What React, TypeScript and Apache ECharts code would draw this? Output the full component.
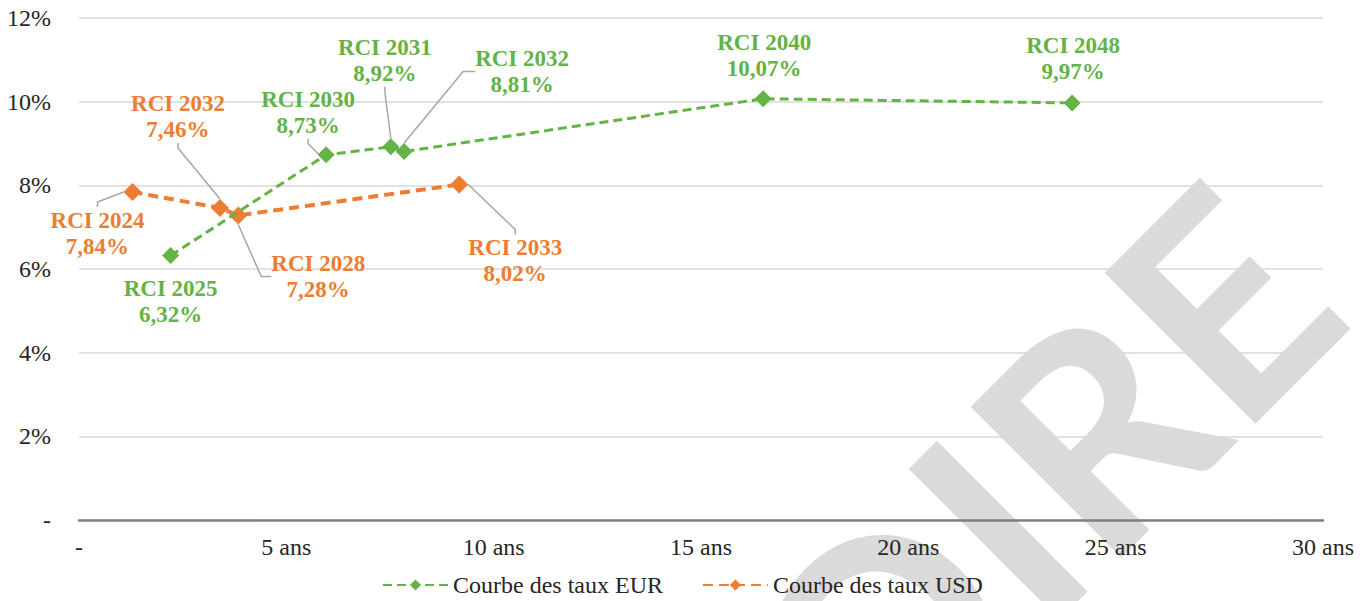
import { useEffect, useRef } from 'react';
import * as echarts from 'echarts';

// ---- Data ----
const eurNames = ['RCI 2025', 'RCI 2030', 'RCI 2031', 'RCI 2032', 'RCI 2040', 'RCI 2048'];
const eurMaturities = [2.21, 5.96, 7.52, 7.84, 16.5, 23.95];
const eurRates = [6.32, 8.73, 8.92, 8.81, 10.07, 9.97];

const usdNames = ['RCI 2024', 'RCI 2032', 'RCI 2028', 'RCI 2033'];
const usdMaturities = [1.29, 3.4, 3.84, 9.17];
const usdRates = [7.84, 7.46, 7.28, 8.02];

const xTickLabels = ['-', '5 ans', '10 ans', '15 ans', '20 ans', '25 ans', '30 ans'];
const yTickLabels = ['-', '2%', '4%', '6%', '8%', '10%', '12%'];
const legendNames = ['Courbe des taux EUR', 'Courbe des taux USD'];
const watermarkText = 'PROVISOIRE';

// ---- Styles / label placement ----
const GREEN = '#63b345';
const ORANGE = '#ed7d31';
const TEXT = '#262626';
const SERIF = "'Liberation Serif', 'Times New Roman', serif";

const eurLabelOffsets = [[0, 46], [-18, -42], [-6, -86], [118, -80], [1, -43], [1, -44]];
const eurLeader = [0, 5, 5, 12, 0, 0];
const usdLabelOffsets = [[-35, 41], [-42, -91], [80, 61], [56, 76]];
const usdLeader = [5, 5, 10, 5];

const fmt = (v: number) => v.toFixed(2).replace('.', ',') + '%';

function buildData(names: string[], mats: number[], rates: number[], leaders: number[]) {
  return names.map((n, i) => ({
    name: n,
    value: [mats[i], rates[i]],
    labelLine: leaders[i] > 0 ? { show: true, length2: leaders[i] } : { show: false },
  }));
}

function labelStyle(color: string) {
  return {
    show: true,
    position: 'inside',
    formatter: (p: any) => `${p.name}\n${fmt(p.value[1])}`,
    color,
    fontFamily: SERIF,
    fontWeight: 'bold',
    fontSize: 23,
    lineHeight: 26,
    align: 'center',
    verticalAlign: 'middle',
  };
}

export default function App() {
  const ref = useRef<HTMLDivElement>(null);

  useEffect(() => {
    if (!ref.current) return;
    const chart = echarts.init(ref.current, undefined, { renderer: 'svg' });
    chart.setOption({
      animation: false,
      backgroundColor: '#ffffff',
      grid: { left: 79, right: 45, top: 18, bottom: 81, containLabel: false },
      graphic: {
        elements: [
          {
            type: 'text',
            x: 1278,
            y: 240,
            rotation: Math.PI / 4,
            z: -10,
            silent: true,
            style: {
              text: watermarkText,
              fill: '#dadada',
              font: 'bold 295px Lato',
              align: 'right',
              verticalAlign: 'middle',
              textAlign: 'right',
              textVerticalAlign: 'middle',
            },
          },
        ],
      },
      legend: {
        left: 377,
        top: 568,
        itemWidth: 65,
        itemHeight: 14,
        itemGap: 39,
        data: legendNames,
        textStyle: { fontFamily: SERIF, fontSize: 24, color: TEXT },
      },
      xAxis: {
        type: 'value',
        min: 0,
        max: 30,
        interval: 5,
        axisLine: { show: true, onZero: true, lineStyle: { color: '#7f7f7f', width: 2.5 } },
        axisTick: { show: false },
        splitLine: { show: false },
        axisLabel: {
          formatter: (v: number) => xTickLabels[Math.round(v / 5)],
          fontFamily: SERIF,
          fontSize: 24,
          color: TEXT,
          margin: 15,
        },
      },
      yAxis: {
        type: 'value',
        min: 0,
        max: 12,
        interval: 2,
        axisLine: { show: false },
        axisTick: { show: false },
        splitLine: { show: true, lineStyle: { color: '#d9d9d9', width: 1.5 } },
        axisLabel: {
          formatter: (v: number) => yTickLabels[Math.round(v / 2)],
          fontFamily: SERIF,
          fontSize: 24,
          color: TEXT,
          margin: 28,
        },
      },
      series: [
        {
          name: legendNames[0],
          type: 'line',
          data: buildData(eurNames, eurMaturities, eurRates, eurLeader),
          symbol: 'diamond',
          symbolSize: 17,
          z: 3,
          lineStyle: { color: GREEN, width: 3, type: [9, 5] },
          itemStyle: { color: GREEN },
          label: labelStyle(GREEN),
          labelLine: { show: true, lineStyle: { color: '#a6a6a6', width: 1.5 } },
          labelLayout: (p: any) => ({
            dx: eurLabelOffsets[p.dataIndex][0],
            dy: eurLabelOffsets[p.dataIndex][1],
          }),
        },
        {
          name: legendNames[1],
          type: 'line',
          data: buildData(usdNames, usdMaturities, usdRates, usdLeader),
          symbol: 'diamond',
          symbolSize: 18,
          z: 2,
          lineStyle: { color: ORANGE, width: 4, type: [10, 6] },
          itemStyle: { color: ORANGE },
          label: labelStyle(ORANGE),
          labelLine: { show: true, lineStyle: { color: '#a6a6a6', width: 1.5 } },
          labelLayout: (p: any) => ({
            dx: usdLabelOffsets[p.dataIndex][0],
            dy: usdLabelOffsets[p.dataIndex][1],
          }),
        },
      ],
    });
    return () => chart.dispose();
  }, []);

  return (
    <div
      ref={ref}
      style={{ position: 'absolute', left: 0, top: 0, width: 1368, height: 601 }}
    />
  );
}
